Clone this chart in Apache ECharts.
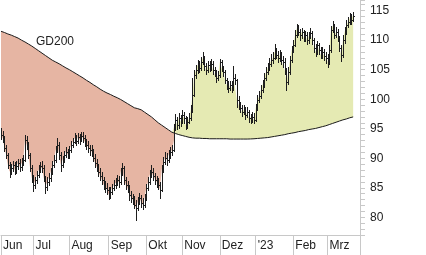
<!DOCTYPE html>
<html><head><meta charset="utf-8">
<script src="https://cdn.jsdelivr.net/npm/echarts/dist/echarts.min.js"></script>
<style>html,body{margin:0;padding:0;background:#fff}#c{width:426px;height:255px}</style>
</head><body><div id="c"></div>
<script>
const monthLabels = ['Jun','Jul','Aug','Sep','Okt','Nov','Dez',"'23",'Feb','Mrz'];
const monthDays = [19,21,23,22,21,22,21,22,20,20];
const yTickLabels = [80,85,90,95,100,105,110,115];
const maLabel = 'GD200';

const close = [
93.9,93.4,91.8,90.6,88.9,87.7,88.4,88.9,88.0,88.7,
89.2,88.5,89.4,89.7,93.1,92.3,90.6,88.4,86.7,85.5,
86.3,87.2,88.0,88.7,88.4,86.7,85.2,86.0,86.7,87.7,
88.9,89.7,91.4,92.3,90.6,88.9,89.7,90.6,91.1,90.6,
91.4,92.3,92.8,93.4,92.9,93.6,93.1,93.8,93.4,92.8,
92.3,91.8,91.4,91.1,90.1,89.2,88.5,87.7,87.0,86.3,
85.5,85.0,84.7,83.8,84.3,85.0,85.5,85.8,86.3,86.0,
87.7,88.4,86.3,85.5,85.0,83.8,83.3,83.0,82.1,81.6,
82.6,83.3,82.5,82.1,83.3,85.0,86.0,87.2,87.7,87.0,
86.3,86.0,85.5,84.7,88.0,89.4,90.1,89.7,90.6,91.1,
91.4,95.1,96.5,95.6,96.8,96.2,97.3,96.8,95.6,96.2,
96.8,98.2,100.7,104.1,104.9,105.8,105.3,106.3,107.0,105.6,
104.9,105.8,105.3,106.0,104.9,104.6,103.6,104.1,106.3,105.3,
104.6,103.3,102.4,101.9,102.4,101.9,103.6,103.3,99.9,99.0,
98.5,97.8,98.2,97.3,97.8,96.8,96.5,97.0,96.5,98.5,
99.9,100.5,101.6,102.4,103.6,104.6,105.3,106.0,106.6,107.0,
108.0,107.5,107.0,107.5,106.6,106.3,104.9,102.9,104.6,106.6,
108.3,109.2,110.9,112.0,111.4,110.9,111.4,110.4,110.9,110.0,
110.7,111.2,110.0,108.7,108.0,109.2,108.3,107.5,108.0,107.3,
107.0,106.3,108.3,111.7,112.5,110.9,111.4,110.4,108.7,107.5,
110.0,111.4,112.5,113.1,113.7,113.4,114.1
];
const high = [
95.1,94.6,93.8,92.2,90.9,89.4,89.0,89.6,89.3,89.5,
89.9,89.8,90.1,90.5,93.9,93.8,92.7,90.9,88.8,87.2,
86.9,87.9,88.9,89.4,89.6,88.9,87.0,86.8,87.5,88.3,
89.5,90.6,92.1,93.4,92.8,91.0,90.4,91.3,91.9,91.6,
92.1,93.0,93.5,94.2,93.9,94.3,94.1,94.5,94.4,93.9,
93.3,92.9,92.3,92.2,91.6,90.7,89.9,89.0,88.3,87.6,
86.9,86.2,85.8,85.2,85.1,85.7,86.3,86.7,87.1,87.0,
88.3,89.2,88.7,86.9,86.1,85.4,84.5,84.0,83.6,82.9,
83.4,84.1,83.8,83.2,84.0,85.6,86.9,88.0,88.8,88.3,
87.5,87.0,86.6,86.0,88.9,90.2,91.0,90.9,91.4,91.9,
92.2,95.8,97.5,97.0,97.6,97.4,98.2,97.9,97.1,96.9,
97.6,99.0,103.6,104.9,105.8,106.6,106.5,107.1,108.0,107.3,
106.2,106.5,106.4,106.8,106.5,105.5,104.9,104.8,106.8,106.7,
105.7,104.9,103.6,103.0,103.1,103.0,105.6,104.2,103.5,100.5,
99.6,99.0,99.1,98.6,98.7,98.1,97.5,97.8,97.6,99.2,
100.7,101.4,102.4,103.3,104.4,105.5,106.2,106.9,107.6,108.0,
109.3,108.6,108.1,108.3,108.0,107.3,106.9,105.3,105.4,107.4,
109.0,110.0,111.7,112.7,112.5,111.9,112.1,111.8,111.6,111.3,
111.4,112.0,111.6,110.3,109.3,109.9,109.6,108.8,108.8,108.5,
108.0,107.6,109.1,112.4,113.3,112.8,112.2,111.9,110.7,109.2,
110.9,112.3,113.4,114.0,114.6,114.4,114.7
];
const low = [
93.2,92.8,91.2,90.0,88.3,86.8,87.3,87.9,87.4,87.5,
88.2,87.9,88.0,88.9,89.5,91.6,90.0,87.8,86.0,84.5,
84.9,85.8,86.8,87.6,87.7,86.1,84.1,84.7,85.5,86.2,
87.3,88.5,89.3,91.0,89.8,87.8,88.5,89.3,90.2,90.0,
90.1,91.0,91.9,92.5,92.3,92.6,92.4,92.9,92.7,92.1,
91.6,91.1,90.6,90.3,89.5,88.5,87.8,87.0,86.3,85.6,
84.8,84.2,83.9,83.1,83.2,83.9,84.6,85.0,85.4,85.2,
85.7,87.2,85.7,84.8,84.3,83.0,82.6,82.2,81.5,79.6,
81.2,82.3,81.8,81.4,81.8,83.0,84.6,85.7,86.8,86.3,
85.6,85.1,84.8,83.3,84.5,87.6,89.0,88.9,89.3,90.1,
90.5,91.2,94.7,94.9,95.2,95.4,95.9,96.0,95.0,95.2,
95.9,96.5,97.9,100.5,103.6,104.5,104.6,105.0,106.0,105.0,
104.3,104.6,104.7,104.9,104.3,103.9,102.9,103.2,103.8,104.8,
104.0,102.8,101.8,101.3,101.6,101.2,101.6,102.6,98.6,98.3,
97.8,97.2,97.5,96.6,97.0,96.2,95.9,96.1,96.0,96.3,
98.1,99.5,100.2,101.2,102.1,103.3,104.2,105.0,105.6,106.1,
106.8,106.9,106.3,106.5,106.0,105.5,104.2,101.6,102.6,104.3,
106.3,108.0,109.0,110.5,110.8,110.1,110.4,109.8,109.9,109.4,
109.5,110.3,109.3,108.0,107.3,107.6,107.6,106.9,107.0,106.7,
106.2,105.5,106.0,108.0,111.3,110.3,110.5,109.8,108.2,106.4,
107.2,109.6,111.0,112.3,112.8,112.8,113.2
];
const gd200 = [
111.5,111.4,111.3,111.2,111.05,110.95,110.85,110.7,110.6,110.5,
110.35,110.2,110.0,109.85,109.7,109.5,109.35,109.15,109.0,108.8,
108.6,108.4,108.2,108.0,107.8,107.6,107.4,107.2,107.0,106.8,
106.6,106.45,106.3,106.15,106.0,105.8,105.65,105.5,105.3,105.15,
105.0,104.85,104.65,104.5,104.3,104.15,103.95,103.8,103.6,103.4,
103.2,103.0,102.85,102.65,102.45,102.3,102.1,101.9,101.7,101.5,
101.35,101.2,101.05,100.9,100.8,100.65,100.5,100.4,100.25,100.1,
99.95,99.8,99.6,99.45,99.25,99.05,98.9,98.7,98.55,98.45,
98.4,98.3,98.2,98.0,97.8,97.6,97.4,97.2,97.0,96.75,
96.5,96.25,96.0,95.8,95.6,95.4,95.2,95.0,94.8,94.6,
94.4,94.3,94.2,94.1,94.0,93.9,93.85,93.75,93.7,93.6,
93.55,93.5,93.45,93.45,93.4,93.4,93.4,93.35,93.35,93.35,
93.35,93.3,93.3,93.3,93.3,93.3,93.3,93.3,93.3,93.3,
93.3,93.3,93.3,93.25,93.25,93.25,93.25,93.25,93.25,93.25,
93.25,93.25,93.25,93.25,93.25,93.25,93.27,93.3,93.3,93.3,
93.35,93.35,93.4,93.4,93.45,93.45,93.5,93.55,93.6,93.65,
93.7,93.75,93.8,93.85,93.9,93.95,94.0,94.1,94.15,94.2,
94.25,94.3,94.35,94.4,94.5,94.55,94.6,94.65,94.7,94.75,
94.85,94.9,94.95,95.0,95.05,95.1,95.2,95.25,95.35,95.4,
95.5,95.6,95.7,95.8,95.9,96.0,96.1,96.2,96.3,96.4,
96.5,96.55,96.65,96.75,96.85,96.9,97.0
];

// categories: one per trading day, tagged with month label and day-in-month
const categories = [];
monthLabels.forEach((m, k) => { for (let d = 0; d < monthDays[k]; d++) categories.push(m + '|' + d); });
const lastIdx = categories.length - 1;
const isMonthStart = (idx, val) => String(val).split('|')[1] === '0';

const base = close.map((c, i) => Math.min(c, gd200[i]));
const below = close.map((c, i) => Math.max(gd200[i] - c, 0));
const above = close.map((c, i) => Math.max(c - gd200[i], 0));

const FONT = '"Liberation Sans", Arial, sans-serif';
const chart = echarts.init(document.getElementById('c'), null, {renderer: 'canvas'});
chart.setOption({
  animation: false,
  grid: {left: 0, right: 66, top: 0, bottom: 20, containLabel: false},
  xAxis: {
    type: 'category', data: categories, boundaryGap: false,
    axisLine: {show: true, lineStyle: {color: '#c8c8c8', width: 1}},
    axisTick: {show: true, length: 20, interval: (idx, val) => isMonthStart(idx, val) || idx === lastIdx,
      lineStyle: {color: '#c8c8c8', width: 1}},
    axisLabel: {show: true, interval: (idx, val) => isMonthStart(idx, val), align: 'left', margin: 5,
      padding: [0, 0, 0, 2], color: '#222', fontSize: 12, fontFamily: FONT,
      formatter: v => String(v).split('|')[0]},
    splitLine: {show: false}
  },
  yAxis: {
    type: 'value', position: 'right', min: 77, max: 116.8, interval: 1,
    axisLine: {show: true, lineStyle: {color: '#c8c8c8', width: 1}},
    axisTick: {show: true, length: 5, lineStyle: {color: '#c8c8c8', width: 1}},
    splitLine: {show: false},
    axisLabel: {margin: 10, color: '#222', fontSize: 12, fontFamily: FONT,
      formatter: v => yTickLabels.includes(Math.round(v * 10) / 10) ? String(Math.round(v)) : ''}
  },
  graphic: [{type: 'text', left: 36, top: 36, style: {text: maLabel, fill: '#222', font: '12px ' + FONT}}],
  series: [
    {type: 'line', data: base, stack: 'band', symbol: 'none', silent: true, lineStyle: {opacity: 0}, z: 1},
    {type: 'line', data: below, stack: 'band', symbol: 'none', silent: true, lineStyle: {opacity: 0},
      areaStyle: {color: '#e6b5a3', opacity: 1}, z: 1},
    {type: 'line', data: above, stack: 'band', symbol: 'none', silent: true, lineStyle: {opacity: 0},
      areaStyle: {color: '#e5eab3', opacity: 1}, z: 1},
    {type: 'line', data: gd200, symbol: 'none', silent: true, lineStyle: {color: '#1a1a1a', width: 1}, z: 3},
    {type: 'custom', z: 4, silent: true,
      data: close.map((c, i) => [i, low[i], high[i], c]),
      encode: {x: 0, y: [1, 2, 3]},
      renderItem: (params, api) => {
        const i = api.value(0);
        const pH = api.coord([i, api.value(2)]);
        const pL = api.coord([i, api.value(1)]);
        const pC = api.coord([i, api.value(3)]);
        const x = Math.round(pH[0]) + 0.5;
        const yc = Math.round(pC[1]) + 0.5;
        return {type: 'group', children: [
          {type: 'line', shape: {x1: x, y1: Math.round(pH[1]), x2: x, y2: Math.round(pL[1]) + 1},
            style: {stroke: '#1e1e1e', lineWidth: 1}},
          {type: 'line', shape: {x1: x, y1: yc, x2: x + 1.5, y2: yc},
            style: {stroke: '#1e1e1e', lineWidth: 1}}
        ]};
      }}
  ]
});
</script></body></html>
